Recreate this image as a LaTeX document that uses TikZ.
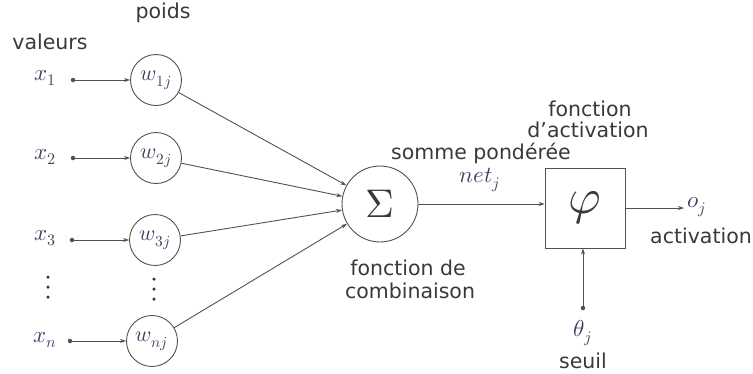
\documentclass[tikz,border=0pt]{standalone}
\usepackage{fontspec}
\setmainfont{DejaVu Sans}
\usepackage{unicode-math}
\usetikzlibrary{arrows.meta}
\definecolor{txt}{HTML}{3C3838}
\definecolor{mth}{HTML}{4A3C66}
\definecolor{ln}{HTML}{555050}
\tikzset{
  lbl/.style={text=txt, font=\fontsize{20.5}{22}\selectfont, inner sep=0pt, align=center},
  mlbl/.style={text=mth, font=\fontsize{23}{25}\selectfont, inner sep=0pt},
  wcirc/.style={draw=ln, line width=0.9pt, circle, minimum size=51pt, inner sep=0pt, text=mth, font=\fontsize{22}{24}\selectfont},
  conn/.style={draw=ln, line width=0.9pt, -{Stealth[length=6pt,width=4pt]}},
  dotp/.style={circle, fill=ln, minimum size=4.5pt, inner sep=0pt},
  vd/.style={circle, fill=txt, minimum size=3.5pt, inner sep=0pt}
}
\begin{document}
\begin{tikzpicture}[x=1pt,y=-1pt]
\useasboundingbox (0,0) rectangle (753,373);
% labels
\node[lbl] (valeurs) at (50,42) {valeurs};
\node[lbl] (poids) at (163,13) {poids};
% inputs
\node[mlbl] (x1) at (45,78) {$x_1$};
\node[mlbl] (x2) at (45,157) {$x_2$};
\node[mlbl] (x3) at (45,238) {$x_3$};
\node[mlbl] (xn) at (45,340) {$x_n$};
\node[dotp] (d1) at (73,80) {};
\node[dotp] (d2) at (73,158) {};
\node[dotp] (d3) at (72,240) {};
\node[dotp] (dn) at (70,341) {};
% weights
\node[wcirc] (w1) at (156,80) {$w_{1j}$};
\node[wcirc] (w2) at (156,158) {$w_{2j}$};
\node[wcirc] (w3) at (155,240) {$w_{3j}$};
\node[wcirc] (wn) at (152,341) {$w_{nj}$};
% vertical dots
\node[vd] (l1) at (48,277) {};
\node[vd] (l2) at (48,287) {};
\node[vd] (l3) at (48,297) {};
\node[vd] (m1) at (154,279) {};
\node[vd] (m2) at (154,289) {};
\node[vd] (m3) at (154,299) {};
% sum
\node[draw=ln, line width=0.9pt, circle, minimum size=76pt, inner sep=0pt, text=txt, font=\fontsize{40}{42}\selectfont] (sum) at (380,204) {$\Sigma$};
% activation box
\node[draw=ln, line width=0.9pt, minimum width=80pt, minimum height=80pt, inner sep=0pt, text=txt, font=\fontsize{50}{52}\selectfont] (phi) at (585,208) {$\varphi$};
% texts
\node[lbl] (somme) at (481,153) {somme pondérée};
\node[mlbl] (net) at (480,180) {$net_j$};
\node[lbl] (fact1) at (590,109) {fonction};
\node[lbl] (fact2) at (588,130) {d’activation};
\node[lbl] (comb1) at (408,268) {fonction de};
\node[lbl] (comb2) at (410,291) {combinaison};
\node[mlbl] (oj) at (697,207) {$o_j$};
\node[lbl] (actv) at (701,236) {activation};
\node[dotp] (dt) at (583,308) {};
\node[mlbl] (theta) at (583,333) {$\theta_j$};
\node[lbl] (seuil) at (583,361) {seuil};
\coordinate (outend) at (684,208);
% connectors
\draw[conn] (d1) -- (w1);
\draw[conn] (d2) -- (w2);
\draw[conn] (d3) -- (w3);
\draw[conn] (dn) -- (wn);
\draw[conn] (w1) -- (sum);
\draw[conn] (w2) -- (sum);
\draw[conn] (w3) -- (sum);
\draw[conn] (wn) -- (sum);
\draw[conn] (sum.east) -- (phi.west |- sum.east);
\draw[conn] (phi.east) -- (outend);
\draw[conn] (dt) -- (phi.south -| dt);
\end{tikzpicture}
\end{document}
